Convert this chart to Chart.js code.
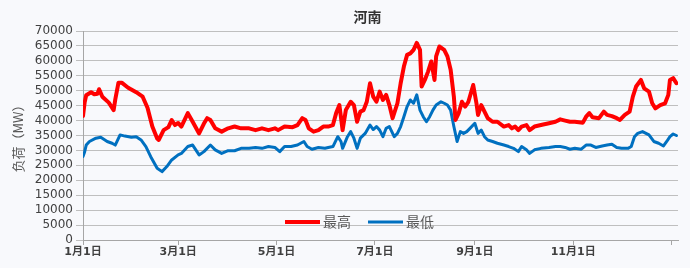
<!DOCTYPE html>
<html><head><meta charset="utf-8">
<script src="https://cdn.jsdelivr.net/npm/chart.js@4/dist/chart.umd.min.js"></script>
<style>html,body{margin:0;padding:0;background:#f8f9fc;overflow:hidden}</style>
</head><body><canvas id="c" width="690" height="268"></canvas>
<script>
const chartTitle = '河南';
const yTitle = '负荷（MW）';
const seriesNames = ['最高', '最低'];
const tickDays = [0, 59, 120, 181, 243, 304, 365];
const tickLabels = ['1月1日', '3月1日', '5月1日', '7月1日', '9月1日', '11月1日', ''];

const maxDays = [0,1,2,5,7,9,10,12,16,19,20,22,24,28,33,37,40,43,46,47,50,53,55,57,59,61,65,68,72,75,77,79,82,86,90,94,98,103,107,111,115,119,121,125,130,133,136,138,140,143,146,149,152,155,157,159,161,163,166,168,170,172,174,176,178,180,182,184,186,188,190,192,195,197,199,201,203,205,207,209,210,212,214,216,218,219,221,224,226,228,230,231,233,235,237,239,242,244,245,247,249,251,254,257,261,264,266,268,270,272,275,277,280,284,289,293,296,299,302,305,310,312,314,316,320,323,325,328,331,333,336,339,341,343,346,348,351,353,355,358,361,363,364,366,368];
const maxLoad = [41500,46000,48500,49500,48800,49000,50500,48000,46000,43500,47000,52700,52700,51000,49500,48000,44300,38000,34000,33500,36800,37800,40200,38500,39200,38000,42500,39600,35700,39000,40800,40200,37400,36300,37400,38000,37400,37400,36800,37400,36800,37400,36800,38000,37800,38500,40800,40200,37400,36300,36800,38000,38000,38500,42500,45200,36800,43500,46300,45200,39600,43000,43500,46300,52500,48000,46300,49700,46900,48600,45200,40800,45800,52500,58100,62000,62500,63700,66000,63700,51400,53600,56400,59800,53600,61500,64800,63700,61500,57000,48000,40200,42500,46300,44700,46300,51900,45800,41900,45200,43000,40800,39600,39600,38000,38500,37400,38000,36800,38000,38500,36800,38000,38500,39100,39600,40400,40000,39600,39600,39300,41300,42500,41100,40800,43000,41900,41500,40800,40200,41900,43000,48000,51400,53600,50800,49700,45800,44100,45200,45800,48600,53600,54200,52500];

const minDays = [0,1,2,4,8,11,15,18,20,23,26,30,33,36,39,42,46,49,52,55,59,61,65,68,72,75,79,82,86,90,94,98,103,107,111,115,119,122,125,129,133,137,139,142,146,150,155,158,160,161,164,166,168,170,172,175,178,180,182,184,186,188,190,193,195,197,199,201,203,205,207,209,211,213,215,217,219,222,224,226,228,230,232,234,236,238,240,243,245,247,249,251,254,257,261,264,267,270,272,275,277,280,284,289,293,296,299,302,305,309,312,315,318,322,325,328,331,334,338,340,342,344,347,351,354,357,360,362,364,366,368];
const minLoad = [28000,29500,31800,33000,34100,34400,33000,32400,31800,35200,34800,34400,34600,33500,31300,27900,24000,22900,24600,26800,28500,29000,31300,31800,28500,29600,31800,30200,29000,29900,29900,30700,30700,31000,30700,31300,31000,29600,31300,31300,31800,33000,31300,30400,31000,30700,31300,34600,33000,30700,34600,36300,34100,30700,34100,35700,38500,37000,38000,36800,34600,37400,38000,34600,35700,38000,41300,44700,46900,45800,48600,43500,41300,39600,41300,43500,45200,46300,45800,45200,43500,38000,33000,36300,35700,36300,37400,39100,35700,36800,34600,33500,33000,32400,31800,31300,30700,29600,31300,30200,29000,30200,30700,31000,31300,31300,31000,30400,30700,30400,31800,31800,31000,31500,31800,32100,31000,30700,30700,31300,34600,35700,36300,35200,33000,32400,31500,33000,34600,35500,35000];

const yMax = 70000, yStep = 5000;
const colors = ['#ff0000', '#0070c0'];
const widths = [4, 3];
const cjk = '"DejaVu Sans", "Noto Sans CJK SC", sans-serif';

const titlePlugin = {
  id: 'customTitle',
  afterDraw(chart) {
    const {ctx, chartArea} = chart;
    ctx.save();
    ctx.font = 'bold 14px "Noto Sans CJK SC", sans-serif';
    ctx.fillStyle = '#333333';
    ctx.textAlign = 'center';
    ctx.textBaseline = 'middle';
    ctx.fillText(chartTitle, (chartArea.left + chartArea.right) / 2 - 13, 17);
    ctx.restore();
  }
};

const legendPlugin = {
  id: 'insideLegend',
  afterDraw(chart) {
    const {ctx, chartArea} = chart;
    ctx.save();
    ctx.font = '14px "Noto Sans CJK SC", sans-serif';
    ctx.textBaseline = 'middle';
    let x = chartArea.left + 202;
    const y = chartArea.bottom - 18;
    chart.data.datasets.forEach((ds, i) => {
      ctx.strokeStyle = ds.borderColor;
      ctx.lineWidth = ds.borderWidth;
      ctx.beginPath();
      ctx.moveTo(x, y);
      ctx.lineTo(x + 35, y);
      ctx.stroke();
      ctx.fillStyle = '#595959';
      ctx.textAlign = 'left';
      ctx.fillText(ds.label, x + 38, y);
      x += 38 + ctx.measureText(ds.label).width + 17;
    });
    ctx.restore();
  }
};

new Chart(document.getElementById('c'), {
  type: 'line',
  data: {
    datasets: [
      {label: seriesNames[0], data: maxDays.map((d, i) => ({x: d, y: maxLoad[i]})), borderColor: colors[0], borderWidth: widths[0], pointRadius: 0, tension: 0, borderJoinStyle: 'round', borderCapStyle: 'round'},
      {label: seriesNames[1], data: minDays.map((d, i) => ({x: d, y: minLoad[i]})), borderColor: colors[1], borderWidth: widths[1], pointRadius: 0, tension: 0, borderJoinStyle: 'round', borderCapStyle: 'round'}
    ]
  },
  options: {
    responsive: false, animation: false, devicePixelRatio: 1,
    layout: {padding: {top: 31, right: 12, left: 0, bottom: 0}},
    plugins: {legend: {display: false}, tooltip: {enabled: false}, title: {display: false}},
    scales: {
      x: {
        type: 'linear', min: 0, max: 369,
        afterBuildTicks: s => { s.ticks = tickDays.map(v => ({value: v})); },
        afterFit: s => { s.height = 28; },
        ticks: {autoSkip: false, maxRotation: 0, minRotation: 0, padding: 1, color: '#404040',
          font: {family: cjk, size: 11, weight: 'bold'},
          callback: (v, i) => tickLabels[i]},
        grid: {drawOnChartArea: false, drawTicks: true, tickLength: 5, color: '#a6a6a6'},
        border: {color: '#a6a6a6'}
      },
      y: {
        min: 0, max: yMax,
        afterFit: s => { s.width = 83; },
        ticks: {stepSize: yStep, autoSkip: false, padding: 3, color: '#404040', font: {family: '"DejaVu Sans", sans-serif', size: 12}, callback: v => String(v)},
        grid: {color: '#bfbfbf', tickLength: 7},
        border: {color: '#a6a6a6'},
        title: {display: true, text: yTitle, color: '#595959', padding: {top: 10, bottom: 0}, font: {family: '"Noto Sans CJK SC", sans-serif', size: 13}}
      }
    }
  },
  plugins: [titlePlugin, legendPlugin]
});
</script></body></html>
